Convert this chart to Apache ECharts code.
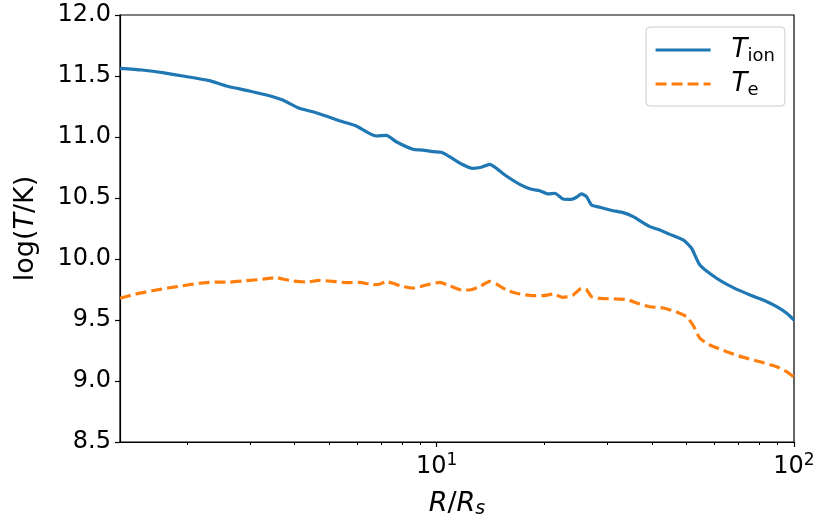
<!DOCTYPE html>
<html>
<head>
<meta charset="utf-8">
<script src="https://cdn.jsdelivr.net/npm/echarts@6/dist/echarts.min.js"></script>
<style>
html,body{margin:0;padding:0;background:#fff;}
#c{width:819px;height:518px;}
</style>
</head>
<body>
<div id="c"></div>
<script>
// ---- data (R/R_s, log T) ----
const ionR = [1.30,1.50,1.71,1.95,2.31,2.58,2.99,3.48,3.71,4.13,4.60,5.46,5.96,6.78,7.23,7.71,8.58,9.15,9.76,10.31,10.87,11.73,12.64,13.34,14.08,14.70,15.67,17.08,18.42,19.43,20.50,21.41,22.58,23.84,24.62,25.43,26.26,27.12,28.61,31.18,33.25,35.47,39.51,42.13,44.95,48.97,51.69,54.54,60.74,67.61,75.31,82.04,89.45,95.41,100];
const ionT = [11.563,11.549,11.527,11.500,11.462,11.418,11.377,11.330,11.303,11.235,11.199,11.125,11.090,11.008,11.014,10.961,10.899,10.893,10.880,10.875,10.839,10.779,10.743,10.752,10.776,10.743,10.680,10.612,10.571,10.560,10.533,10.539,10.492,10.489,10.506,10.533,10.511,10.443,10.424,10.396,10.380,10.347,10.265,10.238,10.202,10.156,10.088,9.951,9.842,9.765,9.705,9.664,9.609,9.555,9.500];
const eR = [1.30,1.44,1.60,1.77,1.95,2.17,2.42,2.63,2.93,3.26,3.56,3.71,3.96,4.32,4.70,5.24,5.59,6.09,6.63,6.92,7.23,7.55,7.88,8.58,9.36,10.19,10.87,11.73,12.37,13.20,14.08,14.70,15.67,17.08,18.61,19.85,21.18,22.58,24.09,25.43,26.26,27.12,28.61,31.87,34.00,37.04,39.51,43.04,46.93,50.05,52.24,54.54,58.17,64.79,72.11,80.33,89.45,95.41,100];
const eT = [9.678,9.713,9.740,9.762,9.781,9.801,9.811,9.811,9.822,9.834,9.847,9.836,9.820,9.811,9.825,9.814,9.806,9.809,9.789,9.793,9.814,9.801,9.781,9.762,9.787,9.808,9.781,9.746,9.746,9.773,9.817,9.795,9.746,9.713,9.699,9.699,9.713,9.686,9.705,9.760,9.750,9.691,9.678,9.672,9.668,9.631,9.609,9.598,9.566,9.527,9.455,9.350,9.295,9.240,9.194,9.158,9.117,9.076,9.030];

const xMin = 1.3, xMax = 100;
const xMajorTicks = [10, 100];
const xMinorTicks = [2,3,4,5,6,7,8,9,20,30,40,50,60,70,80,90];
const yMin = 8.5, yMax = 12.0, yStep = 0.5;

const FONT = 'DejaVu Sans';
const lg = Math.log10;
const toPts = (xs, ys) => xs.map((x, i) => [lg(x), ys[i]]);

const chart = echarts.init(document.getElementById('c'), null, {renderer: 'canvas'});
chart.setOption({
  animation: false,
  backgroundColor: '#fff',
  grid: {left: 120, right: 25, top: 15, bottom: 76, show: true, borderColor: '#000', borderWidth: 1.2, outerBoundsMode: 'none'},
  legend: {
    orient: 'vertical',
    left: 646, top: 27,
    padding: [8, 10, 7, 8],
    itemWidth: 55, itemHeight: 14, itemGap: 4,
    borderColor: '#cccccc', borderWidth: 1, borderRadius: 4,
    itemStyle: {color: 'rgba(0,0,0,0)', borderWidth: 0, opacity: 0},
    lineStyle: {width: 3.2},
    data: ['Tion', 'Te'],
    formatter: n => n === 'Tion' ? '{t|T}{s|ion}' : '{t|T}{s|e}',
    textStyle: {
      fontFamily: FONT, color: '#000',
      rich: {
        t: {fontFamily: FONT, fontStyle: 'italic', fontSize: 26, lineHeight: 32, padding: [0, 0, 0, 16], color: '#000'},
        s: {fontFamily: FONT, fontSize: 18, lineHeight: 32, padding: [12, 0, 0, 0], color: '#000'}
      }
    }
  },
  xAxis: [{
    type: 'value', min: lg(xMin), max: lg(xMax),
    name: '{i|R}{n|/}{i|R}{s|s}',
    nameLocation: 'middle', nameGap: 46,
    nameTextStyle: {
      fontFamily: FONT, color: '#000',
      rich: {
        i: {fontFamily: FONT, fontStyle: 'italic', fontSize: 27, color: '#000'},
        n: {fontFamily: FONT, fontSize: 27, color: '#000'},
        s: {fontFamily: FONT, fontStyle: 'italic', fontSize: 19, padding: [12, 0, 0, 0], color: '#000'}
      }
    },
    splitLine: {show: false},
    axisLine: {show: true, onZero: false, lineStyle: {color: '#000', width: 1.2}},
    axisTick: {show: true, length: 5, lineStyle: {color: '#000', width: 1.2}, customValues: xMajorTicks.map(lg)},
    axisLabel: {
      customValues: xMajorTicks.map(lg), margin: 10,
      formatter: v => '{b|10}{p|' + Math.round(v) + '}',
      rich: {
        b: {fontFamily: FONT, fontSize: 24, color: '#000'},
        p: {fontFamily: FONT, fontSize: 17, padding: [0, 0, 12, 0], color: '#000'}
      }
    }
  }, {
    type: 'value', min: lg(xMin), max: lg(xMax), position: 'bottom',
    splitLine: {show: false},
    axisLine: {show: false},
    axisLabel: {show: false},
    axisTick: {show: true, length: 3, lineStyle: {color: '#000', width: 1}, customValues: xMinorTicks.map(lg)}
  }],
  yAxis: {
    type: 'value', min: yMin, max: yMax, interval: yStep,
    name: 'log({i|T}/K)',
    nameLocation: 'middle', nameRotate: 90, nameGap: 81,
    nameTextStyle: {
      fontFamily: FONT, fontSize: 27, color: '#000',
      rich: {i: {fontFamily: FONT, fontStyle: 'italic', fontSize: 27, color: '#000'}}
    },
    splitLine: {show: false},
    axisLine: {show: true, onZero: false, lineStyle: {color: '#000', width: 1.2}},
    axisTick: {show: true, length: 5, lineStyle: {color: '#000', width: 1.2}},
    axisLabel: {fontFamily: FONT, fontSize: 24, color: '#000', margin: 9, formatter: v => v.toFixed(1)}
  },
  series: [{
    name: 'Tion', type: 'line', xAxisIndex: 0, symbol: 'none', smooth: 0.2,
    data: toPts(ionR, ionT),
    lineStyle: {color: '#1f77b4', width: 3.2, join: 'round'},
    itemStyle: {color: '#1f77b4'}
  }, {
    name: 'Te', type: 'line', xAxisIndex: 0, symbol: 'none', smooth: 0.2,
    data: toPts(eR, eT),
    lineStyle: {color: '#ff7f0e', width: 3.2, type: [11, 5], cap: 'butt'},
    itemStyle: {color: '#ff7f0e'}
  }]
});
</script>
</body>
</html>
